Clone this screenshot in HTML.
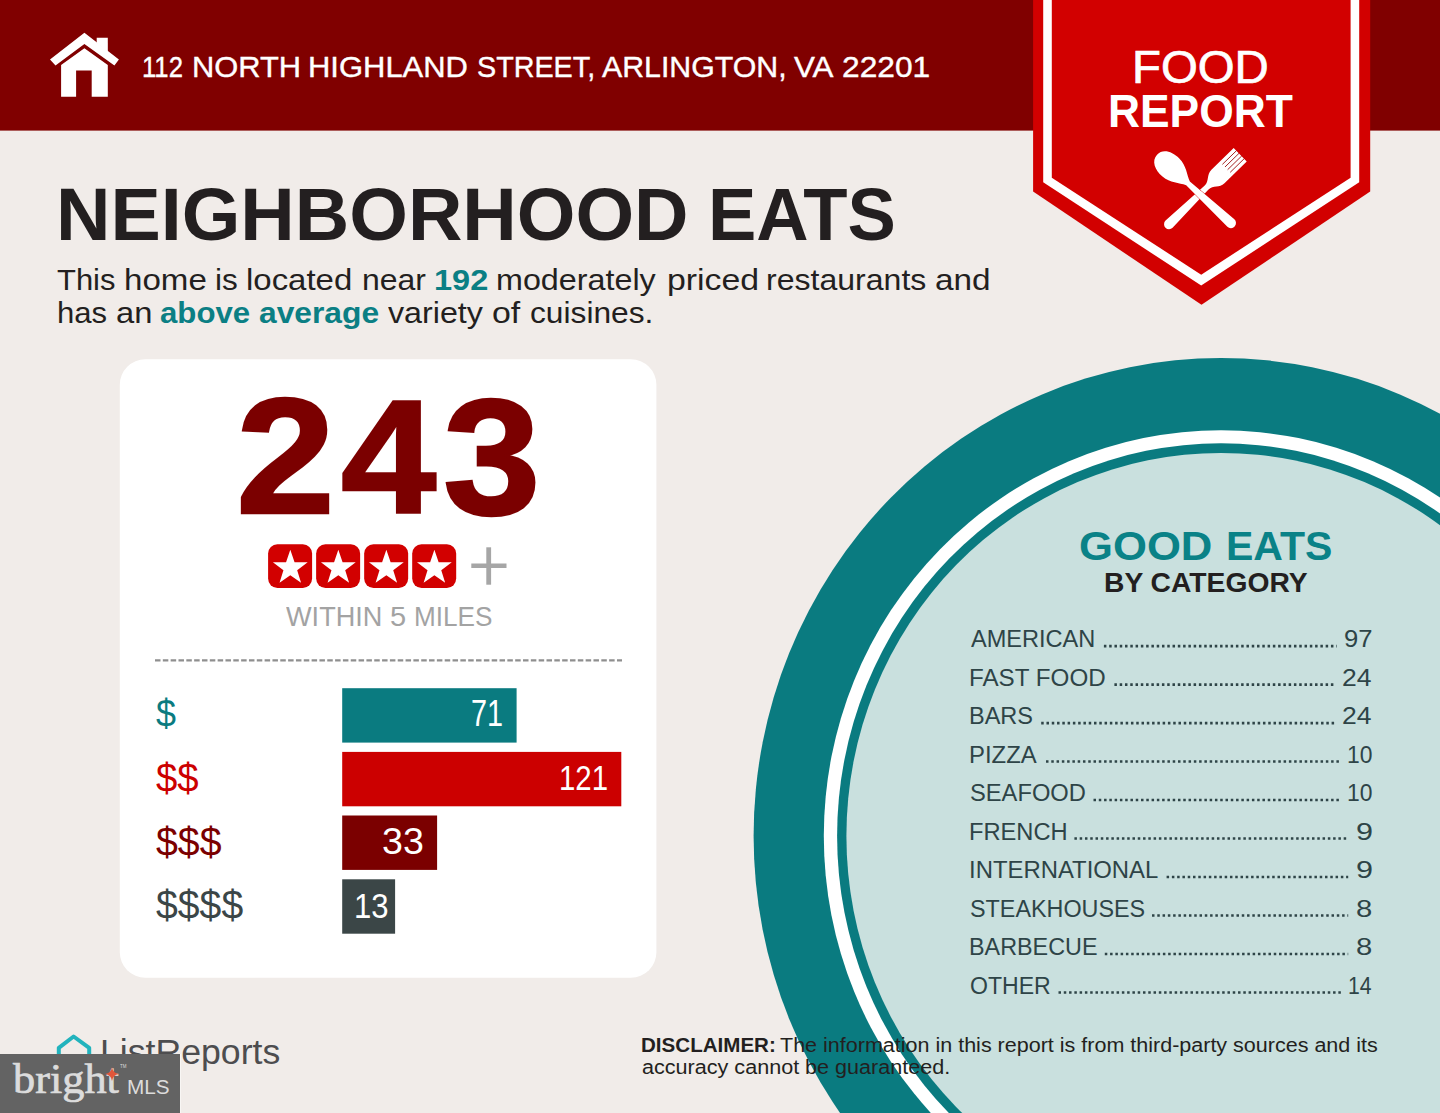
<!DOCTYPE html>
<html><head><meta charset="utf-8"><title>Food Report</title>
<style>
html,body{margin:0;padding:0;overflow:hidden}
body{width:1440px;height:1113px;position:relative;overflow:hidden;background:#f1ece9;font-family:"Liberation Sans",sans-serif}
.t{position:absolute;white-space:nowrap;line-height:1;transform-origin:0 0;margin:0}
.mls{position:absolute;left:0;top:1053.7px;width:180.3px;height:59.3px;background:#636363;border-right:1px solid #f8f6f4}
</style></head><body>

<svg width="1440" height="1113" viewBox="0 0 1440 1113" style="position:absolute;left:0;top:0">
<rect x="0" y="0" width="1440" height="130.6" fill="#800000"/>
<ellipse cx="1221" cy="836" rx="467.4" ry="478" fill="#0a7b80"/>
<ellipse cx="1221" cy="836" rx="397.2" ry="405.7" fill="#ffffff"/>
<ellipse cx="1221" cy="836" rx="383.9" ry="392.7" fill="#0a7b80"/>
<ellipse cx="1221" cy="836" rx="374.6" ry="383.1" fill="#c9e0de"/>
<polygon points="1033.1,0 1033.1,191.6 1201.5,304.8 1370.2,191.6 1370.2,0" fill="#d20000"/>
<polygon points="1043.2,0 1043.2,182.2 1201.2,285.6 1359.2,182.2 1359.2,0" fill="#ffffff"/>
<polygon points="1051.8,0 1051.8,177.8 1201.2,274.7 1350.6,177.8 1350.6,0" fill="#d20000"/>
<g fill="#ffffff"><polygon points="84.4,32.8 118.9,59.4 114.4,65.5 84.4,43.9 55.5,65.5 50,59.4"/><polygon points="96.7,37.8 107.8,37.8 107.8,52 96.7,43"/><path d="M84.4,48.3 L107.8,65 L107.8,96.7 L91.7,96.7 L91.7,70.6 L76.1,70.6 L76.1,96.7 L61.1,96.7 L61.1,65 Z"/></g>
<g transform="translate(1140,140) scale(0.08985)" fill="#ffffff">
<g transform="translate(295,965) rotate(-44.3)"><path d="M40,-56 L620,-30 C700,-30 720,-104 800,-104 L1146,-104 L1146,104 L800,104 C720,104 700,30 620,30 L40,56 A56,56 0 0 1 40,-56 Z"/></g>
<g transform="translate(295,965) rotate(-44.3)" stroke="#960000" stroke-width="9"><line x1="930" y1="-62" x2="1150" y2="-62"/><line x1="930" y1="-21" x2="1150" y2="-21"/><line x1="930" y1="21" x2="1150" y2="21"/><line x1="930" y1="62" x2="1150" y2="62"/></g>
<g transform="translate(351,313) rotate(42.8)"><path d="M-220,0 C-220,-92 -125,-142 -10,-138 C105,-134 170,-62 250,-30 L900,-57 A57,57 0 0 1 900,57 L250,30 C170,62 105,134 -10,138 C-125,142 -220,92 -220,0 Z" stroke="#d20000" stroke-width="10" paint-order="stroke"/></g>
</g>
<rect x="119.8" y="359.2" width="536.6" height="618.6" rx="25.5" fill="#ffffff"/>
<line x1="155" y1="660.3" x2="622" y2="660.3" stroke="#8f8f8f" stroke-width="2.2" stroke-dasharray="5.5 2.33"/>
<rect x="268.10" y="544.2" width="44" height="43.7" rx="9.3" fill="#d20000"/>
<polygon points="290.30,549.70 294.55,562.15 307.70,562.34 297.17,570.23 301.06,582.81 290.30,575.23 279.54,582.81 283.43,570.23 272.90,562.34 286.05,562.15" fill="#ffffff"/>
<rect x="316.13" y="544.2" width="44" height="43.7" rx="9.3" fill="#d20000"/>
<polygon points="338.33,549.70 342.58,562.15 355.73,562.34 345.20,570.23 349.09,582.81 338.33,575.23 327.57,582.81 331.46,570.23 320.93,562.34 334.08,562.15" fill="#ffffff"/>
<rect x="364.16" y="544.2" width="44" height="43.7" rx="9.3" fill="#d20000"/>
<polygon points="386.36,549.70 390.61,562.15 403.76,562.34 393.23,570.23 397.12,582.81 386.36,575.23 375.60,582.81 379.49,570.23 368.96,562.34 382.11,562.15" fill="#ffffff"/>
<rect x="412.19" y="544.2" width="44" height="43.7" rx="9.3" fill="#d20000"/>
<polygon points="434.39,549.70 438.64,562.15 451.79,562.34 441.26,570.23 445.15,582.81 434.39,575.23 423.63,582.81 427.52,570.23 416.99,562.34 430.14,562.15" fill="#ffffff"/>
<rect x="486.3" y="547.3" width="4.8" height="37.4" fill="#a6a6a6"/><rect x="471.3" y="563.5" width="35.2" height="4.5" fill="#a6a6a6"/>
<rect x="342.2" y="688.2" width="174.4" height="54.4" fill="#0a7b80"/>
<rect x="342.2" y="751.9" width="279.1" height="54.4" fill="#cc0000"/>
<rect x="342.2" y="815.5" width="94.9" height="54.4" fill="#7b0000"/>
<rect x="342.2" y="879.3" width="52.9" height="54.4" fill="#3b4647"/>
<line x1="1103.9" y1="646.10" x2="1336.8" y2="646.10" stroke="#2e4447" stroke-width="2.6" stroke-dasharray="2.5 2.78"/>
<line x1="1114.4" y1="684.59" x2="1335.6" y2="684.59" stroke="#2e4447" stroke-width="2.6" stroke-dasharray="2.5 2.78"/>
<line x1="1041.2" y1="723.08" x2="1335.6" y2="723.08" stroke="#2e4447" stroke-width="2.6" stroke-dasharray="2.5 2.78"/>
<line x1="1046" y1="761.57" x2="1340.7" y2="761.57" stroke="#2e4447" stroke-width="2.6" stroke-dasharray="2.5 2.78"/>
<line x1="1093.5" y1="800.06" x2="1340.7" y2="800.06" stroke="#2e4447" stroke-width="2.6" stroke-dasharray="2.5 2.78"/>
<line x1="1074.4" y1="838.55" x2="1348.2" y2="838.55" stroke="#2e4447" stroke-width="2.6" stroke-dasharray="2.5 2.78"/>
<line x1="1166.6" y1="877.04" x2="1348.2" y2="877.04" stroke="#2e4447" stroke-width="2.6" stroke-dasharray="2.5 2.78"/>
<line x1="1152" y1="915.53" x2="1348.2" y2="915.53" stroke="#2e4447" stroke-width="2.6" stroke-dasharray="2.5 2.78"/>
<line x1="1104.8" y1="954.02" x2="1348.2" y2="954.02" stroke="#2e4447" stroke-width="2.6" stroke-dasharray="2.5 2.78"/>
<line x1="1058.5" y1="992.51" x2="1342.2" y2="992.51" stroke="#2e4447" stroke-width="2.6" stroke-dasharray="2.5 2.78"/>
<path d="M73.6,1036.5 L89.2,1047.8 L89.2,1072 L58.8,1072 L58.8,1047.8 Z" fill="none" stroke="#22b3bd" stroke-width="4" stroke-linejoin="round"/>
</svg>
<div class="t" style="left:142.31px;top:52.40px;font-size:30.34px;font-weight:400;color:#ffffff;-webkit-text-stroke:0.4px #ffffff;transform:scale(0.8467,1.0000)">112</div>
<div class="t" style="left:191.71px;top:52.40px;font-size:30.34px;font-weight:400;color:#ffffff;-webkit-text-stroke:0.4px #ffffff;transform:scale(1.0170,1.0000)">NORTH</div>
<div class="t" style="left:308.30px;top:52.40px;font-size:30.34px;font-weight:400;color:#ffffff;-webkit-text-stroke:0.4px #ffffff;transform:scale(1.0206,1.0000)">HIGHLAND</div>
<div class="t" style="left:476.92px;top:52.40px;font-size:30.34px;font-weight:400;color:#ffffff;-webkit-text-stroke:0.4px #ffffff;transform:scale(0.9471,1.0000)">STREET,</div>
<div class="t" style="left:602.35px;top:52.40px;font-size:30.34px;font-weight:400;color:#ffffff;-webkit-text-stroke:0.4px #ffffff;transform:scale(0.9989,1.0000)">ARLINGTON,</div>
<div class="t" style="left:793.60px;top:52.40px;font-size:30.34px;font-weight:400;color:#ffffff;-webkit-text-stroke:0.4px #ffffff;transform:scale(1.0338,1.0000)">VA</div>
<div class="t" style="left:842.09px;top:52.40px;font-size:30.34px;font-weight:400;color:#ffffff;-webkit-text-stroke:0.4px #ffffff;transform:scale(1.0459,1.0000)">22201</div>
<div class="t" style="left:55.69px;top:177.70px;font-size:73.76px;font-weight:700;color:#231f20;transform:scale(1.0224,1.0000)">NEIGHBORHOOD</div>
<div class="t" style="left:707.59px;top:177.70px;font-size:73.76px;font-weight:700;color:#231f20;transform:scale(0.9823,1.0000)">EATS</div>
<div class="t" style="left:57.21px;top:265.40px;font-size:29.40px;font-weight:400;color:#231f20;transform:scale(1.0530,1.0000)">This</div>
<div class="t" style="left:124.05px;top:265.40px;font-size:29.40px;font-weight:400;color:#231f20;transform:scale(1.1260,1.0000)">home</div>
<div class="t" style="left:214.66px;top:265.40px;font-size:29.40px;font-weight:400;color:#231f20;transform:scale(1.0722,1.0000)">is</div>
<div class="t" style="left:245.96px;top:265.40px;font-size:29.40px;font-weight:400;color:#231f20;transform:scale(1.1209,1.0000)">located</div>
<div class="t" style="left:361.52px;top:265.40px;font-size:29.40px;font-weight:400;color:#231f20;transform:scale(1.0880,1.0000)">near</div>
<div class="t" style="left:433.96px;top:265.40px;font-size:29.40px;font-weight:700;color:#0b7f84;transform:scale(1.1065,1.0000)">192</div>
<div class="t" style="left:496.30px;top:265.40px;font-size:29.40px;font-weight:400;color:#231f20;transform:scale(1.0988,1.0000)">moderately</div>
<div class="t" style="left:666.70px;top:265.40px;font-size:29.40px;font-weight:400;color:#231f20;transform:scale(1.1515,1.0000)">priced</div>
<div class="t" style="left:766.42px;top:265.40px;font-size:29.40px;font-weight:400;color:#231f20;transform:scale(1.0903,1.0000)">restaurants</div>
<div class="t" style="left:935.28px;top:265.40px;font-size:29.40px;font-weight:400;color:#231f20;transform:scale(1.1348,1.0000)">and</div>
<div class="t" style="left:56.58px;top:298.00px;font-size:29.40px;font-weight:400;color:#231f20;transform:scale(1.0576,1.0000)">has</div>
<div class="t" style="left:115.51px;top:298.00px;font-size:29.40px;font-weight:400;color:#231f20;transform:scale(1.1119,1.0000)">an</div>
<div class="t" style="left:159.70px;top:298.00px;font-size:29.40px;font-weight:700;color:#0b7f84;transform:scale(1.0619,1.0000)">above</div>
<div class="t" style="left:258.89px;top:298.00px;font-size:29.40px;font-weight:700;color:#0b7f84;transform:scale(1.0810,1.0000)">average</div>
<div class="t" style="left:387.53px;top:298.00px;font-size:29.40px;font-weight:400;color:#231f20;transform:scale(1.0968,1.0000)">variety</div>
<div class="t" style="left:492.46px;top:298.00px;font-size:29.40px;font-weight:400;color:#231f20;transform:scale(1.1527,1.0000)">of</div>
<div class="t" style="left:529.65px;top:298.00px;font-size:29.40px;font-weight:400;color:#231f20;transform:scale(1.0787,1.0000)">cuisines.</div>
<div class="t" style="left:1132.22px;top:44.15px;font-size:46.32px;font-weight:400;color:#ffffff;-webkit-text-stroke:0.7px #ffffff;transform:scale(1.0226,1.0000)">FOOD</div>
<div class="t" style="left:1108.04px;top:86.60px;font-size:47.04px;font-weight:700;color:#ffffff;transform:scale(0.9430,1.0000)">REPORT</div>
<div class="t" style="left:235.88px;top:374.13px;font-size:162.76px;font-weight:700;color:#7b0000;-webkit-text-stroke:2.4px #7b0000;transform:scale(1.0935,1.0114)">2</div>
<div class="t" style="left:340.98px;top:377.28px;font-size:162.76px;font-weight:700;color:#7b0000;-webkit-text-stroke:2.4px #7b0000;transform:scale(1.0525,0.9958)">4</div>
<div class="t" style="left:442.81px;top:373.93px;font-size:162.76px;font-weight:700;color:#7b0000;-webkit-text-stroke:2.4px #7b0000;transform:scale(1.0775,1.0202)">3</div>
<div class="t" style="left:285.95px;top:604.20px;font-size:26.72px;font-weight:400;color:#a3a3a3;transform:scale(1.0151,1.0000)">WITHIN</div>
<div class="t" style="left:389.54px;top:604.20px;font-size:26.72px;font-weight:400;color:#a3a3a3;transform:scale(1.0880,1.0000)">5</div>
<div class="t" style="left:413.50px;top:604.20px;font-size:26.72px;font-weight:400;color:#a3a3a3;transform:scale(0.9785,1.0000)">MILES</div>
<div class="t" style="left:156.33px;top:695.00px;font-size:38.50px;font-weight:400;color:#0a7b80;transform:scale(0.9333,1.0093)">$</div>
<div class="t" style="left:156.30px;top:759.11px;font-size:38.50px;font-weight:400;color:#cc0000;transform:scale(0.9964,1.0349)">$$</div>
<div class="t" style="left:156.29px;top:822.51px;font-size:38.50px;font-weight:400;color:#7b0000;transform:scale(1.0206,1.0349)">$$$</div>
<div class="t" style="left:156.29px;top:886.14px;font-size:38.50px;font-weight:400;color:#3b4647;transform:scale(1.0178,1.0330)">$$$$</div>
<div class="t" style="left:471.30px;top:696.30px;font-size:36.01px;font-weight:400;color:#ffffff;transform:scale(0.8000,1.0000)">71</div>
<div class="t" style="left:559.24px;top:760.90px;font-size:35.72px;font-weight:400;color:#ffffff;transform:scale(0.8236,1.0000)">121</div>
<div class="t" style="left:382.35px;top:824.10px;font-size:36.27px;font-weight:400;color:#ffffff;transform:scale(1.0362,1.0000)">33</div>
<div class="t" style="left:353.51px;top:888.60px;font-size:35.84px;font-weight:400;color:#ffffff;transform:scale(0.8676,1.0000)">13</div>
<div class="t" style="left:1078.93px;top:525.60px;font-size:40.94px;font-weight:700;color:#0a8287;transform:scale(1.0667,1.0000)">GOOD</div>
<div class="t" style="left:1225.55px;top:525.60px;font-size:40.94px;font-weight:700;color:#0a8287;transform:scale(1.0015,1.0000)">EATS</div>
<div class="t" style="left:1103.99px;top:568.70px;font-size:27.30px;font-weight:700;color:#231f20;transform:scale(1.0353,1.0000)">BY CATEGORY</div>
<div class="t" style="left:971.30px;top:627.20px;font-size:24.39px;font-weight:400;color:#2e4447;transform:scale(0.9665,1.0000)">AMERICAN</div>
<div class="t" style="left:1343.89px;top:627.20px;font-size:24.39px;font-weight:400;color:#2e4447;transform:scale(1.0505,1.0000)">97</div>
<div class="t" style="left:969.31px;top:665.69px;font-size:24.39px;font-weight:400;color:#2e4447;transform:scale(0.9926,1.0000)">FAST FOOD</div>
<div class="t" style="left:1342.34px;top:665.69px;font-size:24.39px;font-weight:400;color:#2e4447;transform:scale(1.0891,1.0000)">24</div>
<div class="t" style="left:969.37px;top:704.18px;font-size:24.39px;font-weight:400;color:#2e4447;transform:scale(0.9644,1.0000)">BARS</div>
<div class="t" style="left:1342.34px;top:704.18px;font-size:24.39px;font-weight:400;color:#2e4447;transform:scale(1.0891,1.0000)">24</div>
<div class="t" style="left:969.34px;top:742.67px;font-size:24.39px;font-weight:400;color:#2e4447;transform:scale(0.9806,1.0000)">PIZZA</div>
<div class="t" style="left:1346.56px;top:742.67px;font-size:24.39px;font-weight:400;color:#2e4447;transform:scale(0.9388,1.0000)">10</div>
<div class="t" style="left:970.08px;top:781.16px;font-size:24.39px;font-weight:400;color:#2e4447;transform:scale(0.9722,1.0000)">SEAFOOD</div>
<div class="t" style="left:1346.56px;top:781.16px;font-size:24.39px;font-weight:400;color:#2e4447;transform:scale(0.9388,1.0000)">10</div>
<div class="t" style="left:969.36px;top:819.65px;font-size:24.39px;font-weight:400;color:#2e4447;transform:scale(0.9713,1.0000)">FRENCH</div>
<div class="t" style="left:1355.53px;top:819.65px;font-size:24.39px;font-weight:400;color:#2e4447;transform:scale(1.2533,1.0000)">9</div>
<div class="t" style="left:969.10px;top:858.14px;font-size:24.39px;font-weight:400;color:#2e4447;transform:scale(0.9798,1.0000)">INTERNATIONAL</div>
<div class="t" style="left:1355.53px;top:858.14px;font-size:24.39px;font-weight:400;color:#2e4447;transform:scale(1.2533,1.0000)">9</div>
<div class="t" style="left:970.10px;top:896.63px;font-size:24.39px;font-weight:400;color:#2e4447;transform:scale(0.9579,1.0000)">STEAKHOUSES</div>
<div class="t" style="left:1356.20px;top:896.63px;font-size:24.39px;font-weight:400;color:#2e4447;transform:scale(1.2000,1.0000)">8</div>
<div class="t" style="left:969.38px;top:935.12px;font-size:24.39px;font-weight:400;color:#2e4447;transform:scale(0.9580,1.0000)">BARBECUE</div>
<div class="t" style="left:1356.20px;top:935.12px;font-size:24.39px;font-weight:400;color:#2e4447;transform:scale(1.2000,1.0000)">8</div>
<div class="t" style="left:970.12px;top:973.61px;font-size:24.39px;font-weight:400;color:#2e4447;transform:scale(0.9462,1.0000)">OTHER</div>
<div class="t" style="left:1348.18px;top:973.61px;font-size:24.39px;font-weight:400;color:#2e4447;transform:scale(0.8687,1.0000)">14</div>
<div class="t" style="left:100.35px;top:1034.90px;font-size:34.41px;font-weight:400;color:#4d4d4f;transform:scale(1.0359,1.0000)">ListReports</div>
<div class="t" style="left:640.93px;top:1034.20px;font-size:21.05px;font-weight:700;color:#231f20;transform:scale(0.9770,1.0000)">DISCLAIMER:</div>
<div class="t" style="left:780.49px;top:1034.20px;font-size:21.05px;font-weight:400;color:#231f20;transform:scale(1.0221,1.0000)">The information in this report is from third-party sources and its</div>
<div class="t" style="left:641.59px;top:1056.80px;font-size:20.00px;font-weight:400;color:#231f20;transform:scale(1.0789,1.0000)">accuracy cannot be guaranteed.</div>
<div class="mls"></div>
<div class="t" style="left:13.47px;top:1059.15px;font-size:41.66px;font-weight:400;color:#dcdcdc;font-family:'Liberation Serif', serif;-webkit-text-stroke:0.7px #dcdcdc;transform:scale(1.0647,1.0000)">bright</div>
<div class="t" style="left:126.84px;top:1076.50px;font-size:20.62px;font-weight:400;color:#dcdcdc;transform:scale(1.0063,1.0000)">MLS</div>
<div class="t" style="left:119.80px;top:1063.80px;font-size:5.23px;font-weight:400;color:#dcdcdc;transform:scale(0.8552,1.0000)">TM</div>
<svg width="16" height="16" viewBox="-8 -8 16 16" style="position:absolute;left:104.1px;top:1066.4px"><path d="M0,-7 Q0.8,-0.8 7,0 Q0.8,0.8 0,7 Q-0.8,0.8 -7,0 Q-0.8,-0.8 0,-7Z" fill="#e0563a"/></svg>

</body></html>
